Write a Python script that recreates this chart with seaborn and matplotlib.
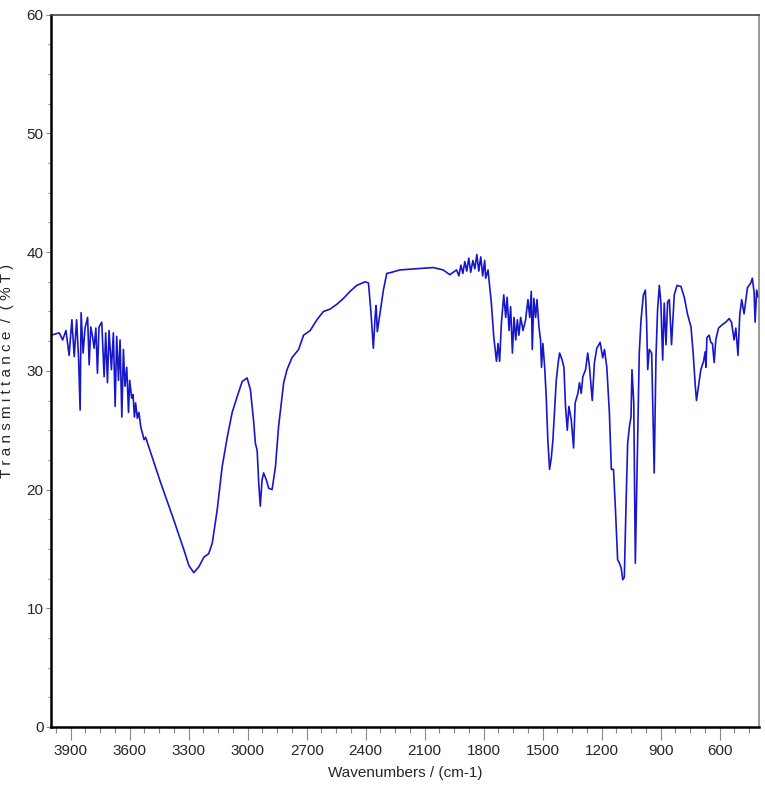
import numpy as np
import pandas as pd
import matplotlib
matplotlib.use("Agg")
import matplotlib.pyplot as plt
from matplotlib.ticker import MultipleLocator
import seaborn as sns

# FTIR spectrum
wavenumber = [4000, 3958, 3941, 3924, 3908, 3894, 3882, 3870, 3860, 3852,
              3847, 3837, 3827, 3814, 3806, 3798, 3789, 3781, 3772, 3764,
              3756, 3742, 3730, 3722, 3713, 3705, 3693, 3683, 3674, 3666,
              3657, 3649, 3640, 3632, 3624, 3615, 3606, 3600, 3590, 3583,
              3576, 3570, 3561, 3553, 3544, 3527, 3519, 3493, 3443, 3375,
              3324, 3299, 3274, 3248, 3223, 3198, 3180, 3155, 3130, 3104,
              3079, 3054, 3028, 3003, 2986, 2969, 2961, 2952, 2944, 2936,
              2927, 2919, 2905, 2893, 2876, 2859, 2843, 2817, 2800, 2775,
              2741, 2716, 2682, 2648, 2615, 2581, 2547, 2513, 2479, 2445,
              2403, 2386, 2374, 2361, 2352, 2347, 2341, 2327, 2310, 2293,
              2268, 2226, 2141, 2057, 2006, 1972, 1938, 1926, 1916, 1906,
              1896, 1886, 1876, 1866, 1855, 1845, 1835, 1825, 1815, 1805,
              1795, 1790, 1778, 1761, 1749, 1735, 1727, 1719, 1710, 1698,
              1688, 1681, 1671, 1663, 1654, 1646, 1637, 1629, 1621, 1612,
              1600, 1587, 1575, 1566, 1558, 1553, 1545, 1536, 1529, 1519,
              1511, 1506, 1499, 1490, 1482, 1474, 1465, 1456, 1448, 1440,
              1431, 1421, 1414, 1401, 1392, 1384, 1375, 1367, 1355, 1343,
              1335, 1321, 1313, 1304, 1296, 1282, 1271, 1262, 1248, 1237,
              1225, 1208, 1195, 1186, 1174, 1161, 1151, 1140, 1130, 1119,
              1110, 1101, 1093, 1085, 1076, 1068, 1059, 1051, 1046, 1037,
              1029, 1020, 1009, 1000, 988, 978, 972, 966, 958, 946,
              933, 924, 916, 907, 899, 890, 882, 873, 865, 856,
              845, 831, 817, 797, 780, 764, 746, 735, 724, 718,
              708, 696, 682, 674, 670, 665, 654, 645, 637, 628,
              620, 606, 586, 569, 552, 540, 527, 518, 507, 498,
              488, 476, 459, 442, 434, 425, 420, 412, 404]

transmittance = [33.0, 33.2, 32.6, 33.4, 31.3, 34.3, 31.2, 34.3, 31.1, 26.7,
                 34.9, 31.5, 33.6, 34.5, 30.5, 33.7, 32.9, 31.9, 33.6, 29.8,
                 33.7, 34.1, 29.5, 33.2, 29.0, 33.4, 30.1, 33.2, 27.0, 32.9,
                 29.2, 32.6, 26.1, 31.8, 28.7, 30.3, 26.5, 29.2, 27.7, 28.0,
                 26.1, 27.3, 26.0, 26.5, 25.3, 24.2, 24.4, 23.1, 20.6, 17.4,
                 14.9, 13.6, 13.0, 13.5, 14.3, 14.6, 15.5, 18.3, 21.9, 24.4,
                 26.5, 27.8, 29.1, 29.4, 28.4, 25.6, 23.9, 23.3, 20.6, 18.6,
                 20.8, 21.4, 20.8, 20.1, 20.0, 21.9, 25.3, 29.0, 30.1, 31.1,
                 31.8, 33.0, 33.4, 34.3, 35.0, 35.2, 35.6, 36.1, 36.7, 37.2,
                 37.5, 37.4, 35.1, 31.9, 34.6, 35.5, 33.3, 34.9, 36.8, 38.2,
                 38.3, 38.5, 38.6, 38.7, 38.5, 38.1, 38.5, 38.0, 38.9, 38.2,
                 39.2, 38.4, 39.5, 38.3, 39.3, 38.6, 39.8, 38.4, 39.6, 38.0,
                 39.3, 37.8, 38.5, 35.7, 32.9, 30.8, 32.3, 30.8, 34.0, 36.4,
                 34.5, 36.2, 33.4, 35.4, 31.5, 34.5, 32.6, 34.3, 33.0, 34.5,
                 33.4, 34.3, 36.0, 34.5, 36.7, 31.8, 36.1, 34.5, 36.0, 33.7,
                 32.6, 30.3, 32.3, 30.3, 27.8, 24.2, 21.7, 22.7, 24.2, 26.5,
                 29.2, 30.7, 31.5, 30.9, 30.3, 27.0, 25.0, 27.0, 25.9, 23.5,
                 27.3, 28.1, 29.0, 28.1, 29.5, 30.1, 31.5, 30.3, 27.5, 30.7,
                 31.9, 32.4, 31.1, 31.8, 30.3, 26.5, 21.7, 21.7, 18.3, 14.1,
                 13.8, 13.4, 12.4, 12.6, 18.9, 23.9, 25.3, 26.1, 30.1, 27.3,
                 13.8, 21.7, 31.5, 34.3, 36.4, 36.8, 34.3, 30.1, 31.8, 31.5,
                 21.4, 31.2, 35.1, 37.2, 35.7, 30.9, 35.7, 32.2, 35.8, 36.0,
                 32.2, 36.4, 37.2, 37.1, 36.2, 34.8, 33.7, 31.5, 28.7, 27.5,
                 28.7, 30.1, 30.8, 31.6, 30.3, 32.8, 33.0, 32.4, 32.3, 30.7,
                 32.6, 33.6, 33.9, 34.1, 34.4, 34.1, 32.6, 33.6, 31.3, 34.7,
                 36.0, 34.8, 37.0, 37.4, 37.8, 36.6, 34.1, 36.8, 36.2]

x_ticks = [3900, 3600, 3300, 3000, 2700, 2400, 2100, 1800, 1500, 1200, 900, 600]

df = pd.DataFrame({"wn": wavenumber, "T": transmittance})

sns.set_style("ticks")
plt.rcParams['font.family'] = ['Liberation Sans', 'DejaVu Sans']

fig = plt.figure(figsize=(7.65, 7.98), dpi=100)
ax = fig.add_axes([0.0667, 0.089, 0.9255, 0.8926])

sns.lineplot(data=df, x="wn", y="T", sort=False, estimator=None,
             color="#1717c9", linewidth=1.2, ax=ax)

ax.set_xlim(4000, 400)
ax.set_ylim(0, 60)
ax.set_xticks(x_ticks)
ax.xaxis.set_minor_locator(MultipleLocator(75))
ax.yaxis.set_major_locator(MultipleLocator(10))
ax.yaxis.set_minor_locator(MultipleLocator(2.5))

ax.tick_params(axis="x", which="major", length=9, width=0.8, color="#888888",
               labelsize=11, pad=3)
ax.tick_params(axis="x", which="minor", length=4.5, width=0.8, color="#888888")
ax.tick_params(axis="y", which="major", length=3.5, width=0.8, color="#888888",
               labelsize=11, pad=2)
ax.tick_params(axis="y", which="minor", length=2, width=0.8, color="#888888")

for s in ["left", "bottom"]:
    ax.spines[s].set_linewidth(1.8)
    ax.spines[s].set_color("black")
ax.spines["top"].set_linewidth(1.2)
ax.spines["top"].set_color("#444444")
ax.spines["right"].set_linewidth(1.2)
ax.spines["right"].set_color("#888888")

ax.set_xlabel("Wavenumbers / (cm-1)", fontsize=11, labelpad=6)
ax.set_ylabel("T r a n s m i t t a n c e  /  ( % T )", fontsize=11)
ax.yaxis.set_label_coords(-0.052, 0.5)

fig.savefig("out.png", dpi=100)
